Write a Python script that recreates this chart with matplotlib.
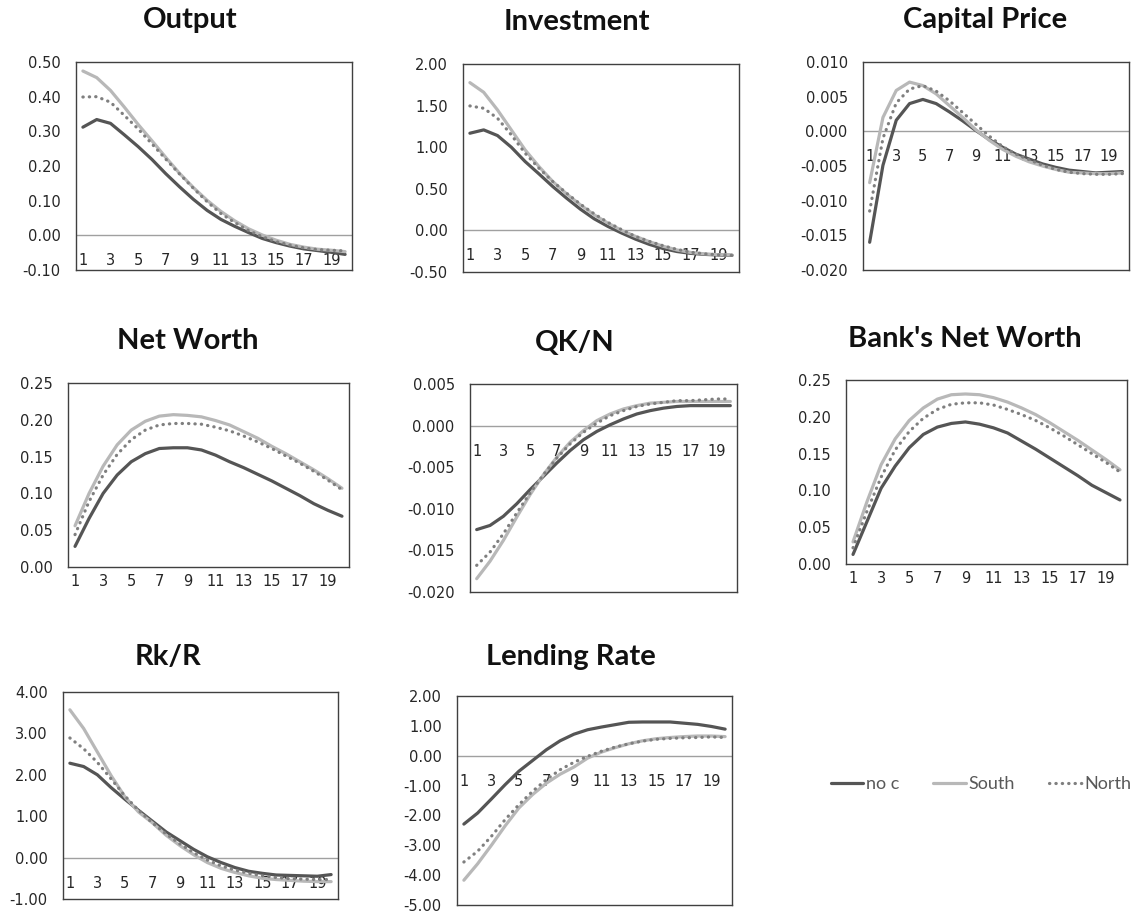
import numpy as np
import matplotlib.pyplot as plt

periods = np.arange(1, 21)
series_names = ["no c", "South", "North"]

output_noc = [0.312, 0.334, 0.323, 0.290, 0.256, 0.219, 0.178, 0.140, 0.104, 0.072,
              0.046, 0.026, 0.008, -0.009, -0.021, -0.031, -0.039, -0.044, -0.049, -0.055]
output_south = [0.474, 0.455, 0.418, 0.370, 0.320, 0.273, 0.225, 0.179, 0.138, 0.101,
                0.069, 0.042, 0.019, 0.001, -0.014, -0.026, -0.034, -0.040, -0.043, -0.047]
output_north = [0.399, 0.400, 0.384, 0.346, 0.307, 0.264, 0.220, 0.177, 0.136, 0.097,
                0.063, 0.037, 0.014, -0.004, -0.018, -0.028, -0.036, -0.041, -0.043, -0.045]

invest_noc = [1.168, 1.208, 1.140, 1.000, 0.828, 0.680, 0.528, 0.388, 0.256, 0.140,
              0.048, -0.032, -0.105, -0.168, -0.218, -0.254, -0.276, -0.288, -0.296, -0.300]
invest_south = [1.776, 1.660, 1.448, 1.208, 0.968, 0.768, 0.588, 0.440, 0.308, 0.188,
                0.088, 0.000, -0.072, -0.135, -0.190, -0.235, -0.265, -0.282, -0.292, -0.296]
invest_north = [1.496, 1.468, 1.348, 1.148, 0.928, 0.748, 0.588, 0.448, 0.316, 0.200,
                0.096, 0.008, -0.072, -0.132, -0.184, -0.228, -0.262, -0.282, -0.294, -0.300]

capprice_noc = [-0.0160, -0.0049, 0.0016, 0.0040, 0.0046, 0.0040, 0.0028, 0.0015, 0.0001, -0.0012,
                -0.0023, -0.0033, -0.0040, -0.0047, -0.0052, -0.0056, -0.0058, -0.0060, -0.0059, -0.0058]
capprice_south = [-0.0074, 0.0020, 0.0059, 0.0071, 0.0066, 0.0054, 0.0037, 0.0020, 0.0002, -0.0013,
                  -0.0026, -0.0036, -0.0044, -0.0050, -0.0055, -0.0059, -0.0060, -0.0061, -0.0061, -0.0060]
capprice_north = [-0.0115, -0.0010, 0.0041, 0.0061, 0.0066, 0.0058, 0.0044, 0.0027, 0.0010, -0.0007,
                  -0.0022, -0.0033, -0.0041, -0.0049, -0.0055, -0.0059, -0.0061, -0.0062, -0.0062, -0.0061]

networth_noc = [0.028, 0.066, 0.100, 0.125, 0.143, 0.154, 0.161, 0.162, 0.162, 0.159,
                0.152, 0.143, 0.135, 0.126, 0.117, 0.107, 0.097, 0.086, 0.077, 0.069]
networth_south = [0.056, 0.100, 0.137, 0.166, 0.186, 0.198, 0.205, 0.207, 0.206, 0.204,
                  0.199, 0.193, 0.184, 0.175, 0.164, 0.154, 0.143, 0.132, 0.120, 0.107]
networth_north = [0.044, 0.089, 0.125, 0.153, 0.173, 0.186, 0.193, 0.195, 0.195, 0.194,
                  0.190, 0.185, 0.178, 0.170, 0.161, 0.151, 0.141, 0.130, 0.118, 0.105]

qkn_noc = [-0.0125, -0.0120, -0.0109, -0.0094, -0.0077, -0.0061, -0.0045, -0.0030, -0.0017, -0.0007,
           0.0001, 0.0008, 0.0014, 0.0018, 0.0021, 0.0023, 0.0024, 0.0024, 0.0024, 0.0024]
qkn_south = [-0.0184, -0.0163, -0.0138, -0.0110, -0.0083, -0.0059, -0.0038, -0.0020, -0.0006, 0.0006,
             0.0014, 0.0020, 0.0024, 0.0027, 0.0028, 0.0029, 0.0029, 0.0029, 0.0029, 0.0029]
qkn_north = [-0.0168, -0.0152, -0.0130, -0.0105, -0.0081, -0.0059, -0.0039, -0.0022, -0.0008, 0.0003,
             0.0012, 0.0018, 0.0023, 0.0026, 0.0028, 0.0030, 0.0030, 0.0031, 0.0032, 0.0032]

banknw_noc = [0.013, 0.058, 0.103, 0.133, 0.158, 0.176, 0.186, 0.191, 0.193, 0.190,
              0.185, 0.178, 0.167, 0.156, 0.144, 0.132, 0.120, 0.107, 0.097, 0.087]
banknw_south = [0.030, 0.085, 0.135, 0.170, 0.195, 0.212, 0.224, 0.230, 0.231, 0.230,
                0.226, 0.220, 0.212, 0.203, 0.192, 0.180, 0.168, 0.155, 0.142, 0.128]
banknw_north = [0.022, 0.072, 0.118, 0.155, 0.180, 0.198, 0.210, 0.217, 0.219, 0.219,
                0.216, 0.210, 0.203, 0.195, 0.185, 0.174, 0.162, 0.150, 0.138, 0.125]

rkr_noc = [2.28, 2.20, 2.00, 1.69, 1.41, 1.14, 0.88, 0.62, 0.41, 0.20,
           0.02, -0.12, -0.24, -0.33, -0.38, -0.42, -0.43, -0.44, -0.45, -0.41]
rkr_south = [3.57, 3.12, 2.55, 1.98, 1.47, 1.10, 0.84, 0.54, 0.29, 0.07,
             -0.12, -0.26, -0.36, -0.44, -0.50, -0.53, -0.55, -0.57, -0.58, -0.58]
rkr_north = [2.89, 2.63, 2.30, 1.90, 1.49, 1.14, 0.84, 0.57, 0.33, 0.12,
             -0.06, -0.20, -0.30, -0.38, -0.44, -0.48, -0.51, -0.52, -0.53, -0.53]

lending_noc = [-2.29, -1.92, -1.45, -0.97, -0.52, -0.16, 0.20, 0.50, 0.72, 0.87,
               0.96, 1.04, 1.12, 1.13, 1.13, 1.13, 1.09, 1.05, 0.98, 0.89]
lending_south = [-4.17, -3.62, -3.00, -2.35, -1.75, -1.30, -0.92, -0.62, -0.38, -0.08,
                 0.12, 0.27, 0.40, 0.50, 0.57, 0.61, 0.64, 0.66, 0.66, 0.64]
lending_north = [-3.56, -3.20, -2.70, -2.14, -1.64, -1.19, -0.80, -0.47, -0.22, -0.02,
                 0.15, 0.29, 0.40, 0.49, 0.55, 0.58, 0.60, 0.61, 0.63, 0.61]

# title, series, y ticks (min, max, step, decimals), plot box in px (l, t, r, b), title centre px
panels = [
    ("Output", (output_noc, output_south, output_north), (-0.10, 0.50, 0.10, 2), (76, 62, 352, 270), (190, 20)),
    ("Investment", (invest_noc, invest_south, invest_north), (-0.50, 2.00, 0.50, 2), (463, 64, 739, 272), (577, 22)),
    ("Capital Price", (capprice_noc, capprice_south, capprice_north), (-0.020, 0.010, 0.005, 3), (863, 62, 1129, 270), (985, 20)),
    ("Net Worth", (networth_noc, networth_south, networth_north), (0.00, 0.25, 0.05, 2), (68, 383, 349, 567), (188, 341)),
    ("QK/N", (qkn_noc, qkn_south, qkn_north), (-0.020, 0.005, 0.005, 3), (470, 384, 737, 592), (575, 343)),
    ("Bank's Net Worth", (banknw_noc, banknw_south, banknw_north), (0.00, 0.25, 0.05, 2), (846, 380, 1127, 564), (965, 339)),
    ("Rk/R", (rkr_noc, rkr_south, rkr_north), (-1.00, 4.00, 1.00, 2), (63, 692, 338, 899), (168, 657)),
    ("Lending Rate", (lending_noc, lending_south, lending_north), (-5.00, 2.00, 1.00, 2), (457, 696, 732, 905), (571, 657)),
]

W, H = 1142, 915
DPI = 100
styles = [
    dict(color="#555555", lw=2.3, ls="-", solid_capstyle="round"),
    dict(color="#b8b8b8", lw=2.3, ls="-", solid_capstyle="round"),
    dict(color="#7f7f7f", lw=2.3, ls=(0, (0.1, 1.9)), dash_capstyle="round"),
]
tick_color = "#262626"

fig = plt.figure(figsize=(W / DPI, H / DPI), dpi=DPI)

for title, data, (ymin, ymax, step, dec), (l, t, r, b), (tx, ty) in panels:
    ax = fig.add_axes([l / W, 1 - b / H, (r - l) / W, (b - t) / H])
    for vals, name, st in zip(data, series_names, styles):
        ax.plot(periods, vals, label=name, zorder=3, **st)
    ax.set_xlim(0.5, 20.5)
    ax.set_ylim(ymin, ymax)
    yt = np.round(np.arange(ymin, ymax + step / 2, step), 6)
    ax.set_yticks(yt)
    ax.set_yticklabels([f"{v:.{dec}f}" for v in yt])
    ax.set_xticks(periods[::2])
    ax.set_xticklabels([str(p) for p in periods[::2]])
    ax.set_axisbelow(True)
    for sp in ax.spines.values():
        sp.set_color("#404040")
        sp.set_linewidth(1.0)
    ax.tick_params(axis="y", length=0, pad=11, labelsize=10.5, labelcolor=tick_color)
    if ymin < 0:
        ax.axhline(0, color="#a0a0a0", lw=1.0, zorder=1)
        # category labels sit just under the zero line
        frac = (0 - ymin) / (ymax - ymin)
        pad_px = frac * (b - t) - 18
        ax.tick_params(axis="x", length=0, pad=-pad_px * 72 / DPI, labelsize=10.5, labelcolor=tick_color)
    else:
        ax.tick_params(axis="x", length=0, pad=5, labelsize=10.5, labelcolor=tick_color)
    fig.text(tx / W, 1 - ty / H, title, ha="center", va="center",
             fontsize=21, fontweight="bold", family=["Lato", "DejaVu Sans"], color="#111111")

handles, labels = ax.get_legend_handles_labels()
fig.legend(handles, labels, loc="center", bbox_to_anchor=(981 / W, 1 - 784 / H), ncol=3,
           frameon=False, handlelength=1.8, handletextpad=0.15, columnspacing=1.9,
           prop={"family": ["Lato", "DejaVu Sans"], "size": 13}, labelcolor="#595959")

fig.savefig("out.png", dpi=DPI)
